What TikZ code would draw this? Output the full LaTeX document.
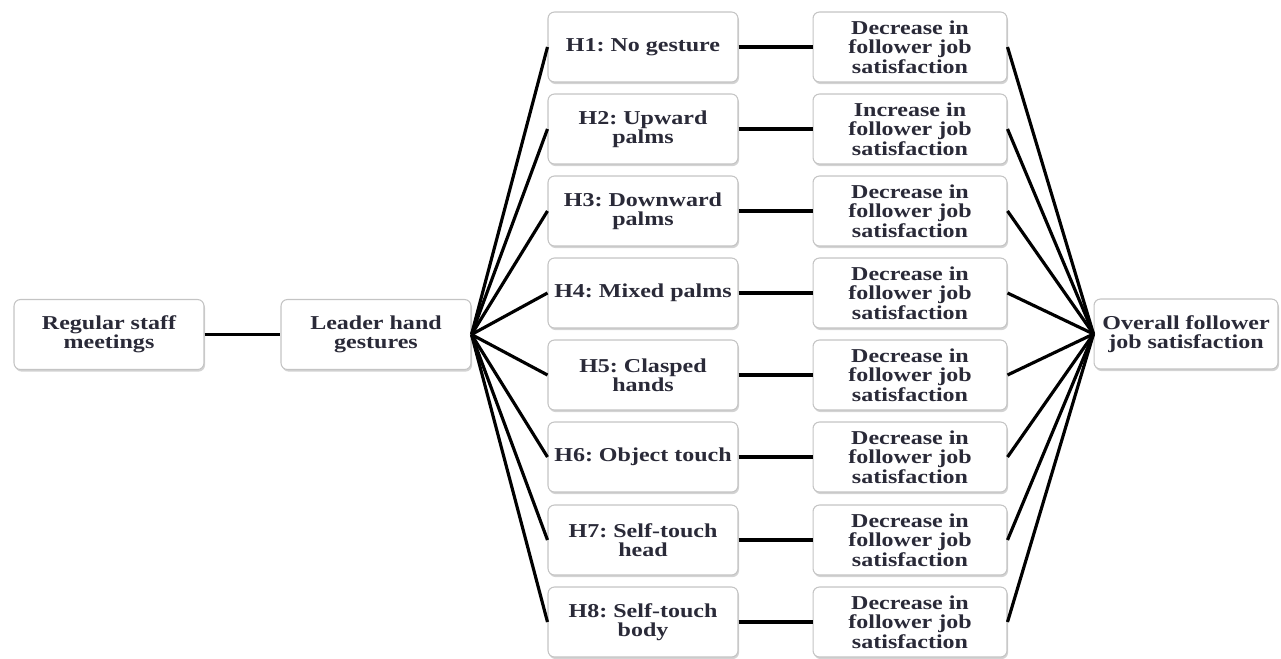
\documentclass[tikz,border=0pt]{standalone}
\usepackage{fontspec}
\setmainfont[FakeStretch=1.22]{Liberation Serif}
\usepackage{tikz}
\usetikzlibrary{shadows}
\frenchspacing

\definecolor{boxline}{HTML}{C4C4C4}
\definecolor{boxtext}{HTML}{2A2A38}

\tikzset{
  gbox/.style={rectangle, rounded corners=0.13cm, draw=boxline, fill=white,
    line width=0.6pt, minimum width=3.8cm, minimum height=1.4cm, align=center,
    inner xsep=1pt, text=boxtext, font=\bfseries\fontsize{11.2}{11}\selectfont,
    drop shadow={opacity=0.35, shadow xshift=0.6pt, shadow yshift=-1.2pt}},
  link/.style={line width=1.8pt, black}
}

\begin{document}
\begin{tikzpicture}[x=0.02cm, y=-0.02cm]
                    \useasboundingbox (0,0) rectangle (1281,659);
                    \node[gbox] (meet) at (109, 334.5) {Regular staff\\meetings};
                    \node[gbox] (lead) at (376, 334.5) {Leader hand\\gestures};
                    \node[gbox, minimum width=3.68cm] (over) at (1186, 334) {Overall follower\\job satisfaction};

                    \node[gbox] (h1) at (643, 47) {H1: No gesture};
                    \node[gbox] (h2) at (643, 129) {H2: Upward\\palms};
                    \node[gbox] (h3) at (643, 211) {H3: Downward\\palms};
                    \node[gbox] (h4) at (643, 293) {H4: Mixed palms};
                    \node[gbox] (h5) at (643, 375) {H5: Clasped\\hands};
                    \node[gbox] (h6) at (643, 457) {H6: Object touch};
                    \node[gbox] (h7) at (643, 540) {H7: Self-touch\\head};
                    \node[gbox] (h8) at (643, 622) {H8: Self-touch\\body};

                    \node[gbox, minimum width=3.88cm] (o1) at (910, 47) {Decrease in\\follower job\\satisfaction};
                    \node[gbox, minimum width=3.88cm] (o2) at (910, 129) {Increase in\\follower job\\satisfaction};
                    \node[gbox, minimum width=3.88cm] (o3) at (910, 211) {Decrease in\\follower job\\satisfaction};
                    \node[gbox, minimum width=3.88cm] (o4) at (910, 293) {Decrease in\\follower job\\satisfaction};
                    \node[gbox, minimum width=3.88cm] (o5) at (910, 375) {Decrease in\\follower job\\satisfaction};
                    \node[gbox, minimum width=3.88cm] (o6) at (910, 457) {Decrease in\\follower job\\satisfaction};
                    \node[gbox, minimum width=3.88cm] (o7) at (910, 540) {Decrease in\\follower job\\satisfaction};
                    \node[gbox, minimum width=3.88cm] (o8) at (910, 622) {Decrease in\\follower job\\satisfaction};

                    \draw[link] (meet) -- (lead);
                    \draw[link] (lead.east) -- (h1.west);
                    \draw[link] (lead.east) -- (h2.west);
                    \draw[link] (lead.east) -- (h3.west);
                    \draw[link] (lead.east) -- (h4.west);
                    \draw[link] (lead.east) -- (h5.west);
                    \draw[link] (lead.east) -- (h6.west);
                    \draw[link] (lead.east) -- (h7.west);
                    \draw[link] (lead.east) -- (h8.west);
                    \draw[link] (h1) -- (o1);
                    \draw[link] (h2) -- (o2);
                    \draw[link] (h3) -- (o3);
                    \draw[link] (h4) -- (o4);
                    \draw[link] (h5) -- (o5);
                    \draw[link] (h6) -- (o6);
                    \draw[link] (h7) -- (o7);
                    \draw[link] (h8) -- (o8);
                    \draw[link] (o1.east) -- (over.west);
                    \draw[link] (o2.east) -- (over.west);
                    \draw[link] (o3.east) -- (over.west);
                    \draw[link] (o4.east) -- (over.west);
                    \draw[link] (o5.east) -- (over.west);
                    \draw[link] (o6.east) -- (over.west);
                    \draw[link] (o7.east) -- (over.west);
                    \draw[link] (o8.east) -- (over.west);
                \end{tikzpicture}
\end{document}
